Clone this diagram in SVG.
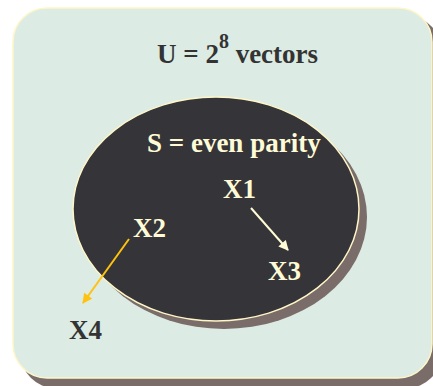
<svg xmlns="http://www.w3.org/2000/svg" width="433" height="386" viewBox="0 0 433 386">
<style>
.lbl{font-family:"Liberation Serif","Times New Roman",serif;font-weight:bold;font-size:27px}
.light{fill:#fffbd6}
.dark{fill:#333333}
.shadow{fill:#7a6c68}
</style>
<defs>
<marker id="ah" viewBox="0 0 10 10" refX="9" refY="5" markerWidth="6" markerHeight="5" orient="auto" markerUnits="strokeWidth">
<path d="M0,0 L10,5 L0,10 z" fill="#fffbd6"/>
</marker>
<marker id="ay" viewBox="0 0 10 10" refX="9" refY="5" markerWidth="6" markerHeight="5" orient="auto" markerUnits="strokeWidth">
<path d="M0,0 L10,5 L0,10 z" fill="#ffc20e"/>
</marker>
</defs>
<rect width="433" height="386" fill="#ffffff"/>
<g id="universe">
<rect class="shadow" x="21" y="16" width="420" height="372" rx="34"/>
<rect x="13" y="8" width="419" height="370" rx="34" fill="#dcebe4" stroke="#fff6c8" stroke-width="1.5"/>
<text class="lbl dark" x="157" y="63">U = 2<tspan font-size="20" dy="-15">8</tspan><tspan dy="15"> vectors</tspan></text>
</g>
<g id="set-s">
<ellipse class="shadow" cx="224" cy="217" rx="143" ry="112"/>
<ellipse cx="216" cy="209" rx="143" ry="112" fill="#353438" stroke="#fff6c8" stroke-width="1.5"/>
<text class="lbl light" x="147" y="152">S = even parity</text>
</g>
<g id="x1"><text class="lbl light" x="223" y="198">X1</text></g>
<g id="x2"><text class="lbl light" x="133" y="237">X2</text></g>
<g id="x3"><text class="lbl light" x="268" y="280">X3</text></g>
<g id="x4"><text class="lbl dark" x="69" y="339">X4</text></g>
<g id="connectors">
<line x1="251" y1="208" x2="288" y2="250" stroke="#fffbd6" stroke-width="2" marker-end="url(#ah)"/>
<line x1="129" y1="239" x2="83" y2="303" stroke="#ffc20e" stroke-width="2" marker-end="url(#ay)"/>
</g>
</svg>
